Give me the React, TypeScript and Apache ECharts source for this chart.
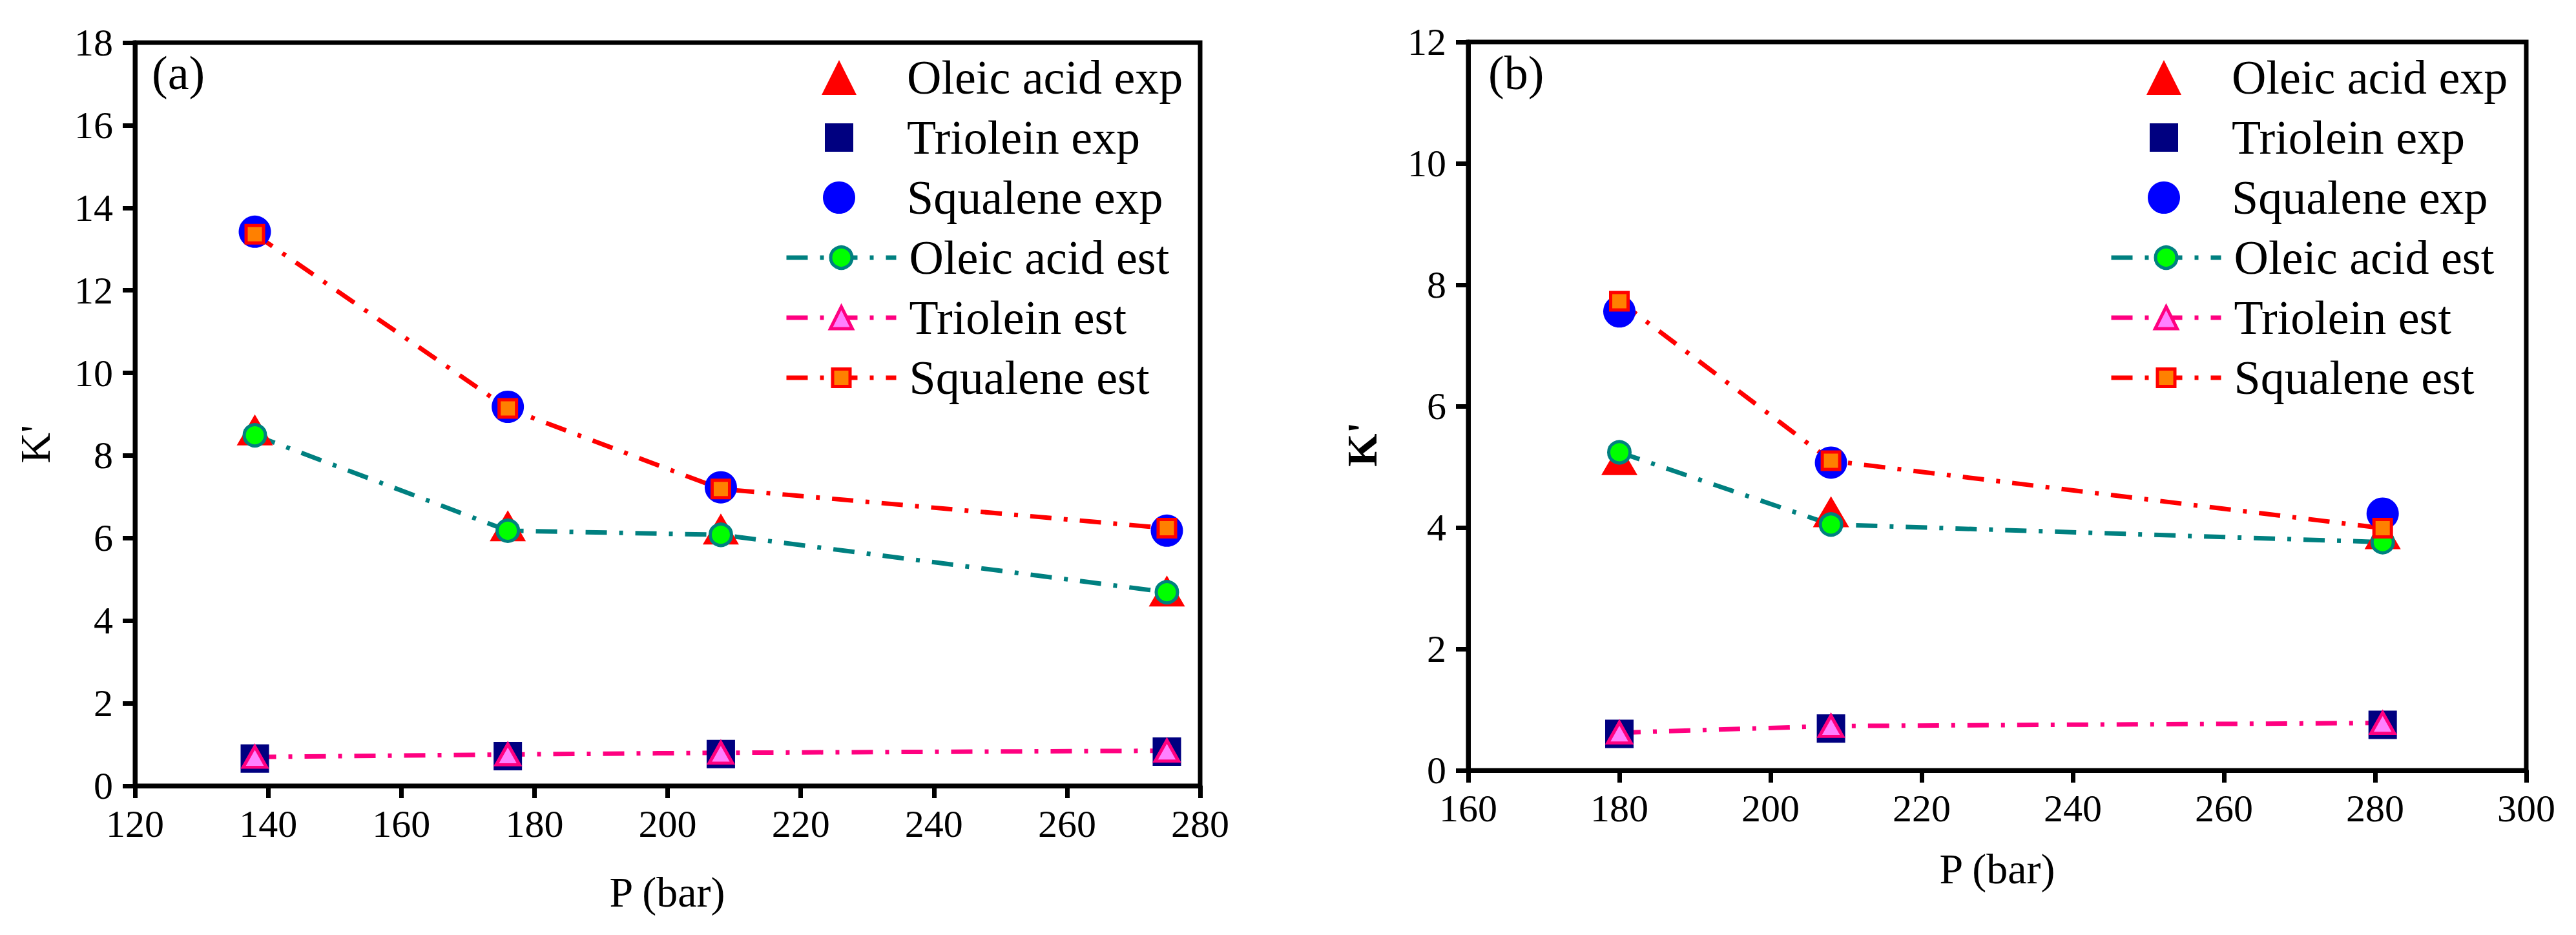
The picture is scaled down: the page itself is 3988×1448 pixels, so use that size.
// Partition coefficients K' vs pressure, two panels (a) and (b)

import { useEffect, useRef } from 'react';
import * as echarts from 'echarts';

const FONT = 'Liberation Serif';

// panel (a)
const pressureA = [138, 176, 208, 275];
const oleicExpA = [8.62, 6.3, 6.22, 4.72];
const trioleinExpA = [0.66, 0.72, 0.77, 0.83];
const squaleneExpA = [13.42, 9.18, 7.23, 6.18];
const oleicEstA = [8.49, 6.18, 6.08, 4.69];
const trioleinEstA = [0.7, 0.76, 0.8, 0.85];
const squaleneEstA = [13.36, 9.14, 7.19, 6.24];

// panel (b)
const pressureB = [180, 208, 281];
const oleicExpB = [5.12, 4.26, 3.9];
const trioleinExpB = [0.6, 0.69, 0.75];
const squaleneExpB = [7.56, 5.07, 4.23];
const oleicEstB = [5.24, 4.05, 3.76];
const trioleinEstB = [0.62, 0.73, 0.78];
const squaleneEstB = [7.73, 5.1, 3.99];

// axis ranges [min, max, step]
const xAxisA = [120, 280, 20];
const yAxisA = [0, 18, 2];
const xAxisB = [160, 300, 20];
const yAxisB = [0, 12, 2];

const seriesNames = [
    'Oleic acid exp',
    'Triolein exp',
    'Squalene exp',
    'Oleic acid est',
    'Triolein est',
    'Squalene est',
];

const DASH_DOT = [33, 19, 6, 19];

type Look = {
    symbol: string;
    size: number | number[];
    legendSize: number;
    fill: string;
    border?: string;
    borderWidth?: number;
    line?: string;
};

const looks: Look[] = [
    { symbol: 'triangle', size: [56, 48], legendSize: 54, fill: '#ff0000' },
    { symbol: 'rect', size: 44, legendSize: 44, fill: '#000080' },
    { symbol: 'circle', size: 50, legendSize: 50, fill: '#0000ff' },
    { symbol: 'circle', size: 33, legendSize: 33, fill: '#00ff00', border: '#008080', borderWidth: 5, line: '#008080' },
    { symbol: 'triangle', size: [36, 32], legendSize: 34, fill: '#ff80ff', border: '#ff0080', borderWidth: 5, line: '#ff0080' },
    { symbol: 'rect', size: 27, legendSize: 27, fill: '#ff8000', border: '#ff0000', borderWidth: 5, line: '#ff0000' },
];

const legendCenters = [120, 213, 306, 399, 492, 585];
const LEGEND_LINE_H = 84;

function lineStyleOf(look: Look) {
    return look.line
        ? { color: look.line, width: 7, type: DASH_DOT, cap: 'butt' }
        : { width: 0, opacity: 0 };
}

function itemStyleOf(look: Look) {
    return {
        color: look.fill,
        borderColor: look.border ?? look.fill,
        borderWidth: look.borderWidth ?? 0,
        opacity: 1,
    };
}

function buildSeries(idx: number, xs: number[], ys: number[], grid: number) {
    const look = looks[idx];
    return {
        type: 'line',
        name: seriesNames[idx],
        xAxisIndex: grid,
        yAxisIndex: grid,
        data: xs.map((x, i) => [x, ys[i]]),
        symbol: look.symbol,
        symbolSize: look.size,
        showSymbol: true,
        clip: false,
        itemStyle: itemStyleOf(look),
        lineStyle: lineStyleOf(look),
        emphasis: { disabled: true },
    };
}

function buildLegends(symbolX: number) {
    return looks.map((look, i) => {
        const h = look.legendSize / 0.8;
        const bw = look.borderWidth ?? 0;
        return {
            data: [seriesNames[i]],
            orient: 'vertical',
            left: symbolX - 85,
            top: legendCenters[i] - LEGEND_LINE_H / 2,
            itemWidth: 170,
            itemHeight: h,
            padding: 0,
            selectedMode: false,
            itemStyle: {
                color: look.fill,
                borderColor: look.border ?? look.fill,
                borderWidth: bw,
            },
            lineStyle: lineStyleOf(look),
            textStyle: {
                fontFamily: FONT,
                fontSize: 74,
                color: '#000',
                lineHeight: LEGEND_LINE_H,
                padding: [0, 0, 0, 15],
            },
        };
    });
}

function axis(range: number[], grid: number, isX: boolean) {
    return {
        type: 'value',
        gridIndex: grid,
        min: range[0],
        max: range[1],
        interval: range[2],
        axisLine: { show: true, onZero: false, lineStyle: { color: '#000', width: 7 } },
        axisTick: { show: true, inside: false, length: 19, lineStyle: { color: '#000', width: 7 } },
        axisLabel: {
            fontFamily: FONT,
            fontSize: 60,
            color: '#000',
            margin: isX ? 29 : 34,
        },
        splitLine: { show: false },
    };
}

function text(content: string, x: number, y: number, size: number, extra: any = {}) {
    const { alignLeft, bold, ...rest } = extra;
    return {
        type: 'text',
        x,
        y,
        ...rest,
        style: {
            text: content,
            fontFamily: FONT,
            fontSize: size,
            fill: '#000',
            align: alignLeft ? 'left' : 'center',
            textAlign: alignLeft ? 'left' : 'center',
            verticalAlign: 'middle',
            textVerticalAlign: 'middle',
            fontWeight: bold ? 'bold' : 'normal',
        },
    };
}

export default function App() {
    const chartRef = useRef<HTMLDivElement>(null);

    useEffect(() => {
        if (!chartRef.current) return;
        document.body.style.margin = '0';
        const chart = echarts.init(chartRef.current, null, { renderer: 'svg' });

        const option: any = {
            animation: false,
            backgroundColor: '#fff',
            textStyle: { fontFamily: FONT },
            grid: [
                { left: 209, top: 66, width: 1649, height: 1151, show: true, borderColor: '#000', borderWidth: 7, backgroundColor: 'transparent' },
                { left: 2273, top: 65, width: 1638, height: 1128, show: true, borderColor: '#000', borderWidth: 7, backgroundColor: 'transparent' },
            ],
            xAxis: [axis(xAxisA, 0, true), axis(xAxisB, 1, true)],
            yAxis: [axis(yAxisA, 0, false), axis(yAxisB, 1, false)],
            legend: [...buildLegends(1299), ...buildLegends(3350)],
            series: [
                buildSeries(0, pressureA, oleicExpA, 0),
                buildSeries(1, pressureA, trioleinExpA, 0),
                buildSeries(2, pressureA, squaleneExpA, 0),
                buildSeries(3, pressureA, oleicEstA, 0),
                buildSeries(4, pressureA, trioleinEstA, 0),
                buildSeries(5, pressureA, squaleneEstA, 0),
                buildSeries(0, pressureB, oleicExpB, 1),
                buildSeries(1, pressureB, trioleinExpB, 1),
                buildSeries(2, pressureB, squaleneExpB, 1),
                buildSeries(3, pressureB, oleicEstB, 1),
                buildSeries(4, pressureB, trioleinEstB, 1),
                buildSeries(5, pressureB, squaleneEstB, 1),
            ],
            graphic: [
                text('(a)', 235, 113, 74, { alignLeft: true }),
                text('(b)', 2304, 113, 74, { alignLeft: true }),
                text("K'", 54, 688, 66, { rotation: Math.PI / 2 }),
                text("K'", 2108, 688, 66, { rotation: Math.PI / 2, bold: true }),
                text('P (bar)', 1033, 1381, 66),
                text('P (bar)', 3092, 1345, 66),
            ],
        };

        chart.setOption(option, { notMerge: true });

        return () => {
            chart.dispose();
        };
    }, []);

    return <div ref={chartRef} style={{ width: '3988px', height: '1448px' }} />;
}
